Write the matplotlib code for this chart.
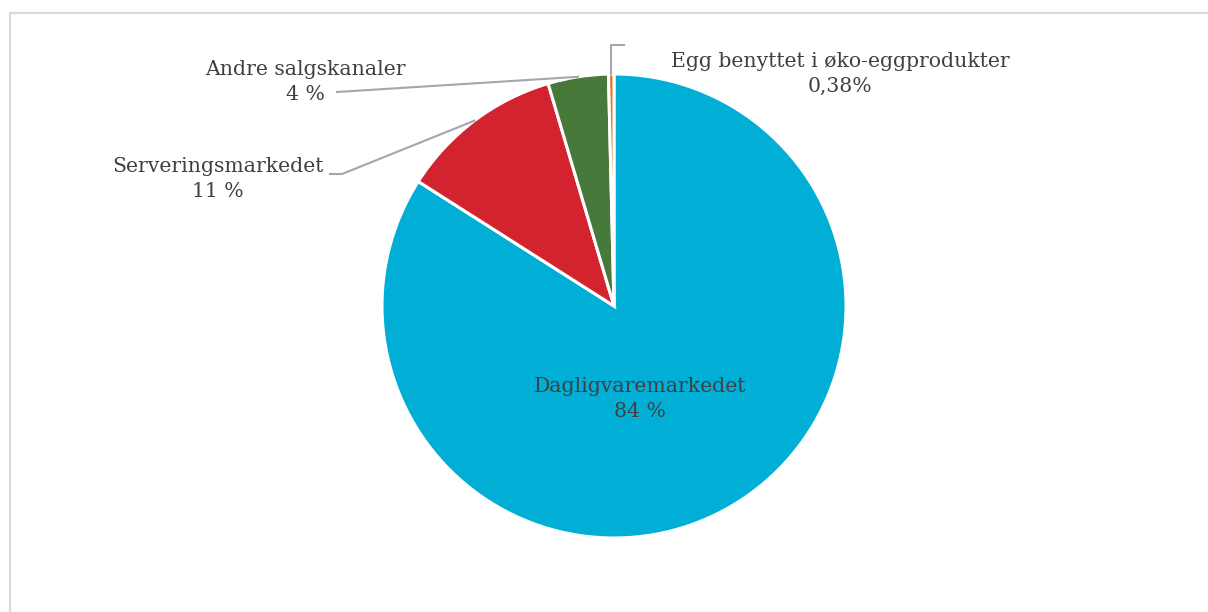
import matplotlib
matplotlib.use("Agg")
import matplotlib.pyplot as plt
import numpy as np

categories = ["Dagligvaremarkedet", "Serveringsmarkedet", "Andre salgskanaler",
              "Egg benyttet i øko-eggprodukter"]
values = [84.0, 11.4, 4.2, 0.38]
pct_labels = ["84 %", "11 %", "4 %", "0,38%"]
colors = ["#00AED6", "#D2232F", "#46793A", "#E8732A"]

W, H = 1208, 612
fig = plt.figure(figsize=(W / 100, H / 100), dpi=100)
ax = fig.add_axes([0, 0, 1, 1])
ax.set_xlim(0, W)
ax.set_ylim(0, H)
ax.set_aspect("equal")
ax.axis("off")

# outer light border
ax.plot([10, 10, W + 5], [-5, H - 13, H - 13], color="#D9D9D9", lw=1.5,
        solid_joinstyle="miter")

cx, cy, r = 614, H - 306, 232
wedges, _ = ax.pie(values, colors=colors, startangle=90, counterclock=False,
                   center=(cx, cy), radius=r,
                   wedgeprops=dict(edgecolor="white", linewidth=2.2))
ax.set_xlim(0, W)
ax.set_ylim(0, H)

txt_kw = dict(fontfamily="DejaVu Serif", fontsize=14.7, color="#404040",
              ha="center", va="center", linespacing=1.45)

# label positions (pixel coords, y measured from top)
label_pos = [(640, 399), (218, 179), (305, 82), (840, 74)]
for cat, pct, (lx, ly) in zip(categories, pct_labels, label_pos):
    ax.text(lx, H - ly, f"{cat}\n{pct}", **txt_kw)

# leader lines from wedge midpoints on the rim
def rim_point(w):
    ang = np.deg2rad((w.theta1 + w.theta2) / 2)
    return cx + r * np.cos(ang), cy + r * np.sin(ang)

lc = dict(color="#A6A6A6", lw=1.5)
# Serveringsmarkedet
px, py = rim_point(wedges[1])
ax.plot([px, 342, 330], [py, H - 174, H - 174], **lc)
# Andre salgskanaler
px, py = rim_point(wedges[2])
ax.plot([px, 337], [py, H - 92], **lc)
# Egg
px, py = rim_point(wedges[3])
ax.plot([px, px, px + 13], [py, H - 45, H - 45], **lc)

fig.savefig("out.png", dpi=100)
